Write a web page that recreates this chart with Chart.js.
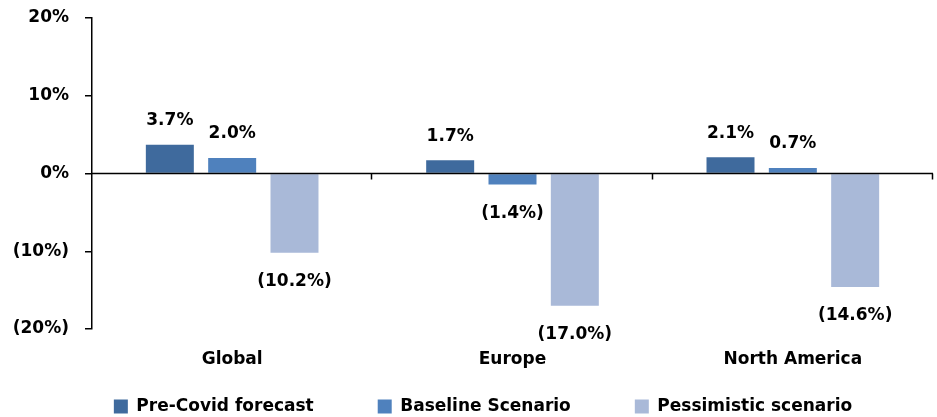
<!DOCTYPE html>
<html>
<head>
<meta charset="utf-8">
<script src="https://cdn.jsdelivr.net/npm/chart.js@4/dist/chart.umd.min.js"></script>
<style>
html,body{margin:0;padding:0;background:#fff;}
#wrap{width:937px;height:417px;position:relative;}
</style>
</head>
<body>
<div id="wrap"><canvas id="c" width="937" height="417"></canvas></div>
<script>
const categories = ["Global", "Europe", "North America"];
const preCovid = [3.7, 1.7, 2.1];
const baseline = [2.0, -1.4, 0.7];
const pessimistic = [-10.2, -17.0, -14.6];
const seriesNames = ["Pre-Covid forecast", "Baseline Scenario", "Pessimistic scenario"];
const yTicks = [-20, -10, 0, 10, 20];

const FONT = {family: "'DejaVu Sans', sans-serif", weight: "bold", size: 17};
const LEGEND_PAD = 64;

function fmt(v, dec) {
  const s = Math.abs(v).toFixed(dec) + "%";
  return v < 0 ? "(" + s + ")" : s;
}

const overlay = {
  id: "overlay",
  afterLayout(chart) {
    const lg = chart.legend;
    if (lg) {
      lg.left += 33;
      lg.top = 408 - LEGEND_PAD - 10;
      lg.bottom = chart.height;
      lg.height = lg.bottom - lg.top;
    }
  },
  afterDatasetsDraw(chart) {
    const ctx = chart.ctx;
    const y = chart.scales.y;
    const area = chart.chartArea;
    const y0 = y.getPixelForValue(0);
    ctx.save();
    ctx.strokeStyle = "#000";
    ctx.lineWidth = 1.5;
    ctx.beginPath();
    ctx.moveTo(area.left, y0);
    ctx.lineTo(area.right, y0);
    ctx.stroke();
    const n = categories.length;
    const w = (area.right - area.left) / n;
    for (let i = 1; i <= n; i++) {
      const px = Math.round(area.left + w * i) - 0.5;
      ctx.beginPath();
      ctx.moveTo(px, y0);
      ctx.lineTo(px, y0 + 6);
      ctx.stroke();
    }
    ctx.fillStyle = "#000";
    ctx.font = "bold 17px 'DejaVu Sans', sans-serif";
    ctx.textAlign = "center";
    ctx.textBaseline = "middle";
    chart.data.datasets.forEach((ds, di) => {
      const meta = chart.getDatasetMeta(di);
      meta.data.forEach((bar, i) => {
        const v = ds.data[i];
        const ty = v >= 0 ? bar.y - 24 : bar.y + 29;
        ctx.fillText(fmt(v, 1), bar.x, ty);
      });
    });
    ctx.restore();
  }
};

new Chart(document.getElementById("c"), {
  type: "bar",
  data: {
    labels: categories,
    datasets: [
      {label: seriesNames[0], data: preCovid, backgroundColor: "#3F6A9D"},
      {label: seriesNames[1], data: baseline, backgroundColor: "#4F81BD"},
      {label: seriesNames[2], data: pessimistic, backgroundColor: "#A9B9D8"}
    ]
  },
  options: {
    responsive: false,
    animation: false,
    devicePixelRatio: 1,
    categoryPercentage: 0.667,
    barPercentage: 0.77,
    layout: {padding: {top: 18, right: 4, left: 0, bottom: 0}},
    plugins: {
      legend: {
        position: "bottom",
        maxHeight: 40,
        labels: {
          font: FONT,
          color: "#000",
          boxWidth: 14,
          boxHeight: 14,
          padding: LEGEND_PAD
        }
      },
      tooltip: {enabled: false}
    },
    scales: {
      x: {
        grid: {display: false},
        border: {display: false},
        ticks: {font: FONT, color: "#000", padding: 12},
        afterFit(scale) { scale.height = 48; }
      },
      y: {
        min: -20,
        max: 20,
        afterBuildTicks(scale) { scale.ticks = yTicks.map(v => ({value: v})); },
        afterFit(scale) { scale.width = 92; scale.paddingTop = 0; scale.paddingBottom = 0; },
        grid: {drawOnChartArea: false, tickLength: 7, color: "#000", lineWidth: 1.5},
        border: {display: true, color: "#000", width: 1.5},
        ticks: {font: FONT, color: "#000", padding: 16, callback: v => fmt(v, 0)}
      }
    }
  },
  plugins: [overlay]
});
</script>
</body>
</html>
